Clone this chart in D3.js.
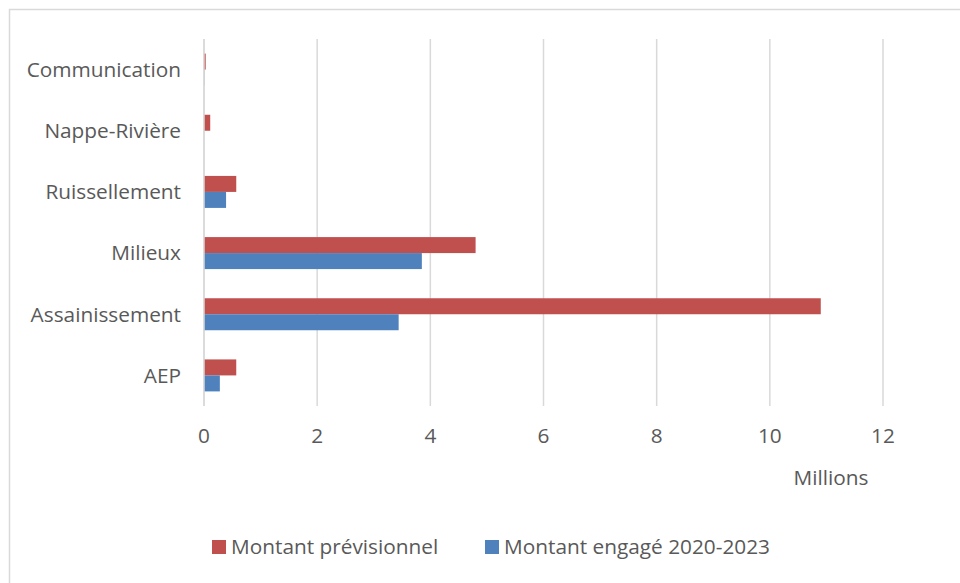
<!DOCTYPE html>
<html lang="fr">
<head>
<meta charset="UTF-8">
<title>Montants par thème</title>
<style>
  body { margin: 0; background: #fff; }
  svg text { font-family: "Open Sans", Lato, sans-serif; fill: #595959; }
</style>
</head>
<body>
<div id="chart"></div>
<script src="https://d3js.org/d3.v7.min.js"></script>
<script>
  // categories, top to bottom as drawn
  const categories = ["Communication", "Nappe-Rivière", "Ruissellement", "Milieux", "Assainissement", "AEP"];
  // values in millions
  const previsionnel = [0.03, 0.11, 0.57, 4.80, 10.90, 0.57];
  const engage = [0.005, 0, 0.39, 3.85, 3.44, 0.28];
  const seriesNames = ["Montant prévisionnel", "Montant engagé 2020-2023"];
  const colors = ["#c0504d", "#4f81bd"];
  const xTicks = [0, 2, 4, 6, 8, 10, 12];

  const width = 960, height = 583;
  const fontSize = 20.8;

  const svg = d3.select("#chart").append("svg")
    .attr("width", width)
    .attr("height", height);

  // chart border (runs off the right/bottom edge)
  svg.append("rect")
    .attr("x", 9.5).attr("y", 9.5)
    .attr("width", 980).attr("height", 600)
    .attr("fill", "none")
    .attr("stroke", "#d9d9d9")
    .attr("stroke-width", 1.5);

  const x = d3.scaleLinear().domain([0, 12]).range([204, 883]);

  const y = d3.scaleBand()
    .domain(categories)
    .range([39, 406])
    .paddingInner(0.477)
    .paddingOuter(0.2385);

  const ySub = d3.scaleBand()
    .domain([0, 1])
    .range([0, y.bandwidth()]);

  // grid lines
  svg.append("g")
    .selectAll("line")
    .data(xTicks)
    .join("line")
    .attr("x1", d => x(d)).attr("x2", d => x(d))
    .attr("y1", 39).attr("y2", 406)
    .attr("stroke", "#d9d9d9")
    .attr("stroke-width", 1.5);

  // tick labels
  svg.append("g")
    .selectAll("text")
    .data(xTicks)
    .join("text")
    .attr("x", d => x(d))
    .attr("y", 443)
    .attr("text-anchor", "middle")
    .attr("font-size", fontSize)
    .text(d => d);

  svg.append("text")
    .attr("x", 831).attr("y", 485)
    .attr("text-anchor", "middle")
    .attr("font-size", fontSize)
    .text("Millions");

  // category labels
  svg.append("g")
    .selectAll("text")
    .data(categories)
    .join("text")
    .attr("x", 181)
    .attr("y", d => y(d) + y.bandwidth() / 2)
    .attr("dy", "0.35em")
    .attr("text-anchor", "end")
    .attr("font-size", fontSize)
    .text(d => d);

  const series = [previsionnel, engage];

  const groups = svg.append("g")
    .selectAll("g")
    .data(series)
    .join("g")
    .attr("fill", (d, i) => colors[i]);

  groups.selectAll("rect")
    .data((vals, si) => vals.map((v, ci) => ({ v, c: categories[ci], si })))
    .join("rect")
    .attr("x", x(0))
    .attr("y", d => y(d.c) + ySub(d.si))
    .attr("width", d => x(d.v) - x(0))
    .attr("height", ySub.bandwidth());

  // zero axis line drawn over bars
  svg.append("line")
    .attr("x1", x(0)).attr("x2", x(0))
    .attr("y1", 39).attr("y2", 406)
    .attr("stroke", "#d9d9d9")
    .attr("stroke-width", 1.5);

  // legend
  const legendItems = [
    { name: seriesNames[0], color: colors[0], x: 212 },
    { name: seriesNames[1], color: colors[1], x: 485 }
  ];
  const legend = svg.append("g")
    .selectAll("g")
    .data(legendItems)
    .join("g")
    .attr("transform", d => `translate(${d.x},540)`);

  legend.append("rect")
    .attr("width", 14).attr("height", 14)
    .attr("fill", d => d.color);

  legend.append("text")
    .attr("x", 19).attr("y", 7)
    .attr("dy", "0.35em")
    .attr("font-size", fontSize)
    .text(d => d.name);
</script>
</body>
</html>
